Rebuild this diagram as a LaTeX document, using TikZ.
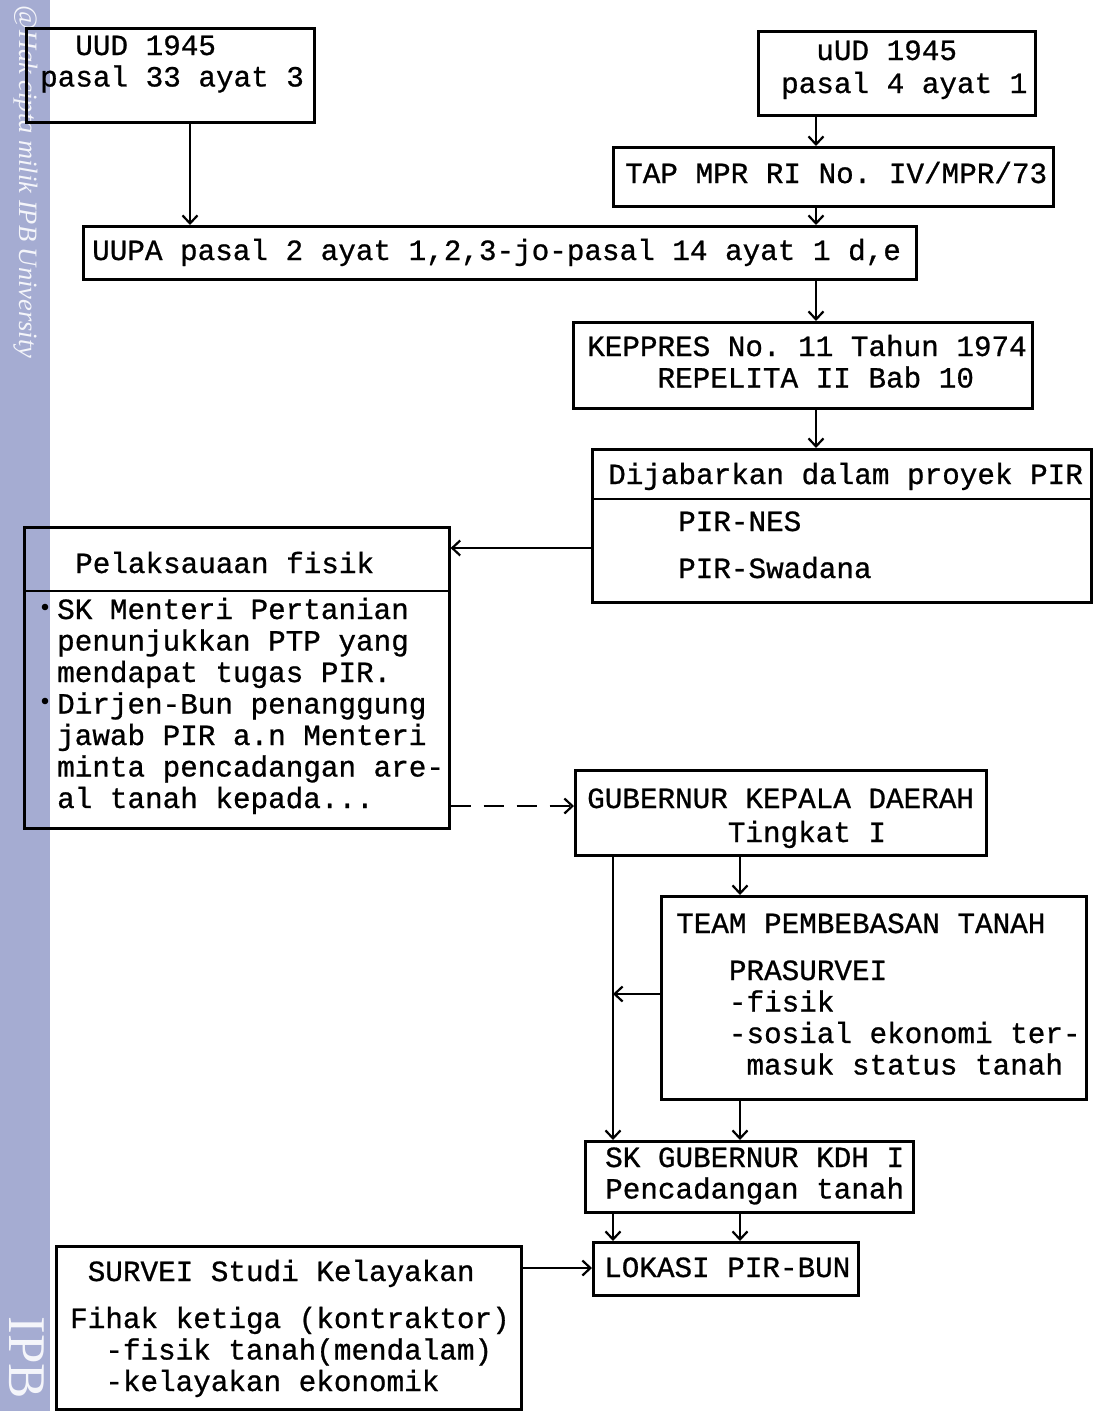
\documentclass[tikz,border=0pt]{standalone}
\usepackage{fontspec}
\setmainfont{Liberation Serif}
\setmonofont{Liberation Mono}[FakeBold=0.8]
\usetikzlibrary{arrows.meta}
\definecolor{stripblue}{RGB}{165,172,210}
\newcommand{\tsp}[1]{\hspace*{#1\dimexpr17.58pt\relax}}

\begin{document}
\begin{tikzpicture}[x=1pt, y=-1pt,
    box/.style={draw, line width=2.6pt, inner sep=0pt, anchor=north west},
    txt/.style={anchor=base west, inner sep=0pt, text width=900pt,
        font=\ttfamily\fontsize{29.3pt}{31.5pt}\selectfont\frenchspacing,
        execute at begin node={\spaceskip=17.58pt\relax\xspaceskip=17.58pt\relax}},
    arr/.style={line width=2.2pt, -{Straight Barb[length=8pt, width=15pt]}},
    sep/.style={line width=2.6pt}]
    \useasboundingbox (0,0) rectangle (1097,1411);

    % Watermark strip
    \fill[stripblue] (0,0) rectangle (50,1411);
    \node[rotate=-90, inner sep=0pt, text=white!88!stripblue, font=\itshape\fontsize{26.5pt}{28pt}\selectfont] (wmtext) at (26,182) {@Hak cipta milik IPB University};
    \node[rotate=-90, inner sep=0pt, text=white!88!stripblue, font=\fontsize{53pt}{55pt}\selectfont] (wmipb) at (27,1358) {IPB};

    % Boxes
    \node[box, minimum width=288pt, minimum height=94pt] (uud33) at (25,27) {};
    \node[box, minimum width=277pt, minimum height=84pt] (uud4) at (757,30) {};
    \node[box, minimum width=440pt, minimum height=59pt] (tap) at (612,146) {};
    \node[box, minimum width=833pt, minimum height=53pt] (uupa) at (82,225) {};
    \node[box, minimum width=459pt, minimum height=86pt] (keppres) at (572,321) {};
    \node[box, minimum width=499pt, minimum height=153pt] (pir) at (591,448) {};
    \node[box, minimum width=425pt, minimum height=301pt] (pelaks) at (23,526) {};
    \node[box, minimum width=411pt, minimum height=85pt] (gub) at (574,769) {};
    \node[box, minimum width=425pt, minimum height=203pt] (team) at (660,895) {};
    \node[box, minimum width=328pt, minimum height=71pt] (sk) at (584,1140) {};
    \node[box, minimum width=265pt, minimum height=53pt] (lokasi) at (592,1241) {};
    \node[box, minimum width=465pt, minimum height=163pt] (survei) at (55,1245) {};

    % Dividers
    \draw[sep] ([yshift=-51pt]pir.north west) -- ([yshift=-51pt]pir.north east);
    \draw[sep] ([yshift=-65pt]pelaks.north west) -- ([yshift=-65pt]pelaks.north east);

    % Texts
    \node[txt] (uud33t) at (40,55) {\tsp2UUD 1945\\pasal 33 ayat 3};
    \node[txt] (uud4t) at (781,60) {\tsp2uUD 1945\\[1.5pt]pasal 4 ayat 1};
    \node[txt] (tapt) at (625,183) {TAP MPR RI No. IV/MPR/73};
    \node[txt] (uupat) at (92,260) {UUPA pasal 2 ayat 1,2,3-jo-pasal 14 ayat 1 d,e};
    \node[txt] (keppt) at (587,356) {KEPPRES No. 11 Tahun 1974\\\tsp4REPELITA II Bab 10};
    \node[txt] (pirt) at (608,484) {Dijabarkan dalam proyek PIR};
    \node[txt] (pirl) at (678,531) {PIR-NES\\[15.5pt]PIR-Swadana};
    \node[txt] (pelt) at (75,573) {Pelaksauaan fisik};
    \node[txt] (pelb) at (57,619) {SK Menteri Pertanian\\penunjukkan PTP yang\\mendapat tugas PIR.\\Dirjen-Bun penanggung\\jawab PIR a.n Menteri\\minta pencadangan are-\\al tanah kepada...};
    \node[txt] (gubt) at (587,808) {GUBERNUR KEPALA DAERAH\\[2.5pt]\tsp8Tingkat I};
    \node[txt] (teamt) at (676,933) {TEAM PEMBEBASAN TANAH\\[15.5pt]\tsp3PRASURVEI\\\tsp3-fisik\\\tsp3-sosial ekonomi ter-\\\tsp4masuk status tanah};
    \node[txt] (skt) at (605,1167) {SK GUBERNUR KDH I\\Pencadangan tanah};
    \node[txt] (lokt) at (604,1277) {LOKASI PIR-BUN};
    \node[txt] (survt) at (70,1281) {\tsp1SURVEI Studi Kelayakan\\[15.5pt]Fihak ketiga (kontraktor)\\\tsp2-fisik tanah(mendalam)\\\tsp2-kelayakan ekonomik};

    % Bullets
    \fill (45,607) circle[radius=3.3pt];
    \fill (45,701) circle[radius=3.3pt];

    % Connectors
    \coordinate (xa) at (190,0);
    \coordinate (xb) at (816,0);
    \coordinate (xc) at (613,0);
    \coordinate (xd) at (740,0);
    \coordinate (ya) at (0,548);
    \coordinate (yb) at (0,806);
    \coordinate (yc) at (0,1268);
    \coordinate (yd) at (0,994);

    \draw[arr] (uud33.south -| xa) -- (uupa.north -| xa);
    \draw[arr] (uud4.south -| xb) -- (tap.north -| xb);
    \draw[arr] (tap.south -| xb) -- (uupa.north -| xb);
    \draw[arr] (uupa.south -| xb) -- (keppres.north -| xb);
    \draw[arr] (keppres.south -| xb) -- (pir.north -| xb);
    \draw[arr] (pir.west |- ya) -- (pelaks.east |- ya);
    \draw[arr, dash pattern=on 20pt off 13pt] (pelaks.east |- yb) -- (gub.west |- yb);
    \draw[arr] (gub.south -| xc) -- (sk.north -| xc);
    \draw[arr] (gub.south -| xd) -- (team.north -| xd);
    \draw[arr] (team.west |- yd) -- (xc |- yd);
    \draw[arr] (team.south -| xd) -- (sk.north -| xd);
    \draw[arr] (sk.south -| xc) -- (lokasi.north -| xc);
    \draw[arr] (sk.south -| xd) -- (lokasi.north -| xd);
    \draw[arr] (survei.east |- yc) -- (lokasi.west |- yc);
\end{tikzpicture}
\end{document}
